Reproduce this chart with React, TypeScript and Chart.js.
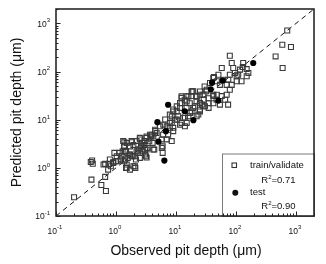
import React, { useEffect, useRef } from "react";
import { Chart, registerables } from "chart.js";

Chart.register(...registerables);

const trainX = [
  716, 592, 826, 458, 600, 79,
  0.2, 0.39, 0.38, 0.4, 0.41, 0.57, 0.68, 0.66, 0.74, 0.66, 0.77, 0.9, 1.0, 0.94, 1.14, 1.29, 1.38, 1.38, 1.85, 1.47, 2.1, 1.07, 1.21, 1.38, 1.57, 1.67, 1.9, 2.15, 2.3, 2.45, 2.78, 2.61, 2.97, 3.16, 3.37, 3.83, 3.59, 4.08, 4.35,
  41.9, 36.9, 47.6, 41.9, 32.5, 28.6, 25.1, 22.1, 18.2, 16.1, 15.1, 12.4, 11.7, 10.3, 9.0, 10.3, 10.9, 13.2, 16.1, 18.2, 20.7, 25.1, 28.6, 25.1, 22.1, 15.1, 12.4, 9.6, 8.5, 7.9, 7.9, 9.0, 7.4, 6.1, 5.8, 7.0, 8.5, 4.5, 4.2, 3.7, 3.2, 3.0, 2.5, 2.7, 2.2, 1.95, 1.71, 1.51, 1.32, 1.82, 2.36, 3.04, 4.2, 5.8, 1.41, 1.71, 2.07, 2.5, 3.04, 1.24, 1.41, 1.95, 1.51, 1.71,
  6.0, 3.24, 6.0,
  85, 90, 132, 151, 117, 161, 109, 96, 79, 74.5, 70, 85, 103, 124, 79, 70, 58, 48, 42, 32, 35, 29, 25, 66, 74, 54, 42, 35, 27, 22, 19.4, 17, 18, 14, 12.4, 11.7, 15, 19.4, 25, 35, 61, 54, 48, 30, 43,
  18.7, 12.4, 17.1, 23.6, 30.4, 15, 22, 14.1, 9.0, 7.9, 10.3, 11.7, 14.1, 9.0, 7.0, 6.6, 8.5,
  58, 51, 103, 151, 130,
  1.36, 2.5, 3.24, 3.93, 4.76, 5.4, 6.15, 4.5, 2.86, 3.24, 2.2, 1.82, 1.47, 1.03, 0.62, 0.79, 0.9, 0.82, 1.51, 2.07, 1.2,
];
const trainY = [
  716, 361, 324, 207, 119, 214,
  0.245, 0.57, 1.33, 1.42, 1.22, 0.44, 0.33, 0.65, 0.92, 1.21, 1.21, 1.27, 1.37, 2.05, 2.05, 2.2, 3.4, 2.9, 3.4, 1.0, 1.0, 1.37, 1.49, 1.37, 1.61, 1.89, 1.74, 1.49, 2.05, 2.4, 2.2, 2.8, 3.0, 1.74, 2.6, 4.5, 3.56, 3.3, 2.4,
  73.6, 58, 26.1, 33.2, 42.1, 33.2, 38.8, 30.6, 38.8, 30.6, 24.1, 30.6, 22.3, 19.0, 14.9, 14.9, 11.8, 10.9, 11.8, 14.9, 19.0, 22.3, 19.0, 14.9, 11.8, 8.6, 8.6, 10.0, 11.8, 8.6, 6.8, 5.8, 4.9, 4.9, 3.9, 3.9, 3.6, 5.8, 4.5, 4.9, 4.2, 3.6, 4.2, 3.3, 3.6, 3.0, 2.8, 3.3, 3.6, 3.6, 2.4, 2.4, 2.4, 2.6, 2.2, 1.89, 1.74, 1.61, 1.89, 1.74, 1.49, 1.08, 1.17, 0.92,
  2.05, 1.64, 2.8,
  151, 119, 151, 113, 110, 94, 86, 94, 86, 68, 53, 53, 63, 63, 42, 33, 31, 33, 31, 39, 28, 26, 33, 26, 20.6, 20.6, 22, 22, 20.6, 24, 39, 22, 31, 26, 22, 17.6, 17.6, 17.6, 16.2, 17.6, 68, 53, 63, 49, 77,
  39, 28.4, 13.9, 12.8, 19.1, 30.8, 30.8, 10.9, 16.3, 12.8, 10.1, 7.9, 7.3, 6.8, 7.3, 10.1, 8.6,
  119, 86, 80, 80, 125,
  2.8, 3.9, 4.5, 4.9, 5.3, 7.3, 7.9, 6.2, 3.3, 2.4, 2.2, 1.75, 2.2, 1.75, 1.17, 1.49, 1.31, 1.08, 1.0, 1.08, 1.49,
];

const testX = [194, 60, 40, 38, 51, 7.4, 14, 19.5, 4.9, 6.8, 5.1, 6.4];
const testY = [151, 65, 59, 43, 25, 20.5, 15, 9.8, 8.9, 5.8, 3.5, 1.42];

const lineVals = [0.1, 2000];
const tickValues = [0.1, 1, 10, 100, 1000];
const tickExps = ["-1", "0", "1", "2", "3"];
const xTitle = "Observed pit depth (\u03bcm)";
const yTitle = "Predicted pit depth (\u03bcm)";
const legendLabels = ["train/validate", "test"];
const legendR2 = ["=0.71", "=0.90"];

const FONT = "Arial, 'Liberation Sans', sans-serif";

const framePlugin = {
  id: "frameTicks",
  afterDatasetsDraw(chart: any) {
    const { ctx, chartArea: a, scales } = chart;
    const xs = scales.x;
    const ys = scales.y;
    ctx.save();

    // legend box
    const lx0 = 222, ly0 = 153.5;
    ctx.fillStyle = "#fff";
    ctx.fillRect(lx0, ly0, a.right - lx0, a.bottom - ly0);
    ctx.strokeStyle = "#7a7a7a";
    ctx.lineWidth = 1;
    ctx.strokeRect(lx0 + 0.5, ly0 + 0.5, a.right - lx0, a.bottom - ly0);

    ctx.fillStyle = "#111";
    ctx.textBaseline = "middle";
    ctx.textAlign = "left";
    ctx.strokeStyle = "#333";
    ctx.lineWidth = 1.1;
    ctx.strokeRect(232, 163, 4.5, 4.5);
    ctx.beginPath();
    ctx.arc(235.3, 192.7, 3, 0, Math.PI * 2);
    ctx.fill();
    ctx.font = `9.5px ${FONT}`;
    ctx.fillText(legendLabels[0], 250, 165.5);
    ctx.fillText(legendLabels[1], 250, 192.8);
    const r2Rows = [180.8, 206.8];
    r2Rows.forEach((yy, i) => {
      ctx.font = `9.5px ${FONT}`;
      ctx.fillText("R", 261.3, yy);
      const wR = ctx.measureText("R").width;
      ctx.font = `6px ${FONT}`;
      ctx.fillText("2", 261.3 + wR, yy - 3.5);
      const w2 = ctx.measureText("2").width;
      ctx.font = `9.5px ${FONT}`;
      ctx.fillText(legendR2[i], 261.3 + wR + w2, yy);
    });

    // frame
    ctx.strokeStyle = "#1a1a1a";
    ctx.lineWidth = 1.5;
    ctx.strokeRect(a.left, a.top, a.right - a.left, a.bottom - a.top);

    // inward ticks
    ctx.lineWidth = 1;
    ctx.strokeStyle = "#222";
    for (let d = -1; d <= 3; d++) {
      for (let m = 1; m <= 9; m++) {
        const v = m * Math.pow(10, d);
        const len = m === 1 ? 4.5 : 2.5;
        if (v <= xs.max) {
          const px = Math.round(xs.getPixelForValue(v)) + 0.5;
          ctx.beginPath();
          ctx.moveTo(px, a.bottom);
          ctx.lineTo(px, a.bottom - len);
          ctx.stroke();
        }
        if (v <= ys.max) {
          const py = Math.round(ys.getPixelForValue(v)) + 0.5;
          ctx.beginPath();
          ctx.moveTo(a.left, py);
          ctx.lineTo(a.left + len, py);
          ctx.stroke();
        }
      }
    }

    // tick labels
    ctx.fillStyle = "#111";
    tickValues.forEach((v, i) => {
      ctx.font = `8.5px ${FONT}`;
      const wb = ctx.measureText("10").width;
      ctx.font = `6px ${FONT}`;
      const we = ctx.measureText(tickExps[i]).width;
      const px = xs.getPixelForValue(v);
      const sx = px - (wb + we) / 2 - 1;
      ctx.font = `8.5px ${FONT}`;
      ctx.fillText("10", sx, a.bottom + 15.5);
      ctx.font = `6px ${FONT}`;
      ctx.fillText(tickExps[i], sx + wb, a.bottom + 11.5);
      const py = ys.getPixelForValue(v);
      const ex = a.left - 6;
      ctx.font = `8.5px ${FONT}`;
      ctx.fillText("10", ex - we - wb, py + 0.8);
      ctx.font = `6px ${FONT}`;
      ctx.fillText(tickExps[i], ex - we, py - 2.8);
    });

    // axis titles
    ctx.font = `14px ${FONT}`;
    ctx.textAlign = "center";
    ctx.fillText(xTitle, (a.left + a.right) / 2 + 1, 251);
    ctx.save();
    ctx.translate(17, (a.top + a.bottom) / 2);
    ctx.rotate(-Math.PI / 2);
    ctx.fillText(yTitle, 0, 0);
    ctx.restore();

    ctx.restore();
  },
};

export default function App() {
  const ref = useRef<HTMLCanvasElement | null>(null);
  useEffect(() => {
    if (!ref.current) return;
    const chart = new Chart(ref.current, {
      type: "scatter",
      data: {
        datasets: [
          {
            label: "y=x",
            type: "line",
            data: lineVals.map((v) => ({ x: v, y: v })),
            borderColor: "#111",
            borderWidth: 1,
            borderDash: [5, 4],
            pointRadius: 0,
            showLine: true,
            fill: false,
            order: 3,
          } as any,
          {
            label: legendLabels[0],
            data: trainX.map((x, i) => ({ x, y: trainY[i] })),
            pointStyle: "rect",
            pointRadius: 3.5,
            borderColor: "#3a3a3a",
            borderWidth: 1.1,
            backgroundColor: "rgba(0,0,0,0)",
            order: 2,
          },
          {
            label: legendLabels[1],
            data: testX.map((x, i) => ({ x, y: testY[i] })),
            pointStyle: "circle",
            pointRadius: 3.1,
            borderWidth: 0,
            backgroundColor: "#000",
            borderColor: "#000",
            order: 1,
          },
        ],
      },
      options: {
        animation: false,
        responsive: false,
        devicePixelRatio: 1,
        layout: { padding: { top: 9, right: 12, left: 0, bottom: 0 } },
        plugins: { legend: { display: false }, tooltip: { enabled: false } },
        scales: {
          x: {
            type: "logarithmic",
            min: 0.1,
            max: 2000,
            grid: { display: false },
            border: { display: false },
            ticks: { display: false },
            afterFit: (s: any) => {
              s.height = 48;
            },
          },
          y: {
            type: "logarithmic",
            min: 0.1,
            max: 2000,
            grid: { display: false },
            border: { display: false },
            ticks: { display: false },
            afterFit: (s: any) => {
              s.width = 56;
            },
          },
        },
      },
      plugins: [framePlugin],
    });
    return () => chart.destroy();
  }, []);
  return (
    <div style={{ position: "fixed", left: 0, top: 0, width: 326, height: 264, background: "#fff" }}>
      <canvas ref={ref} width={326} height={264} style={{ display: "block" }} />
    </div>
  );
}
